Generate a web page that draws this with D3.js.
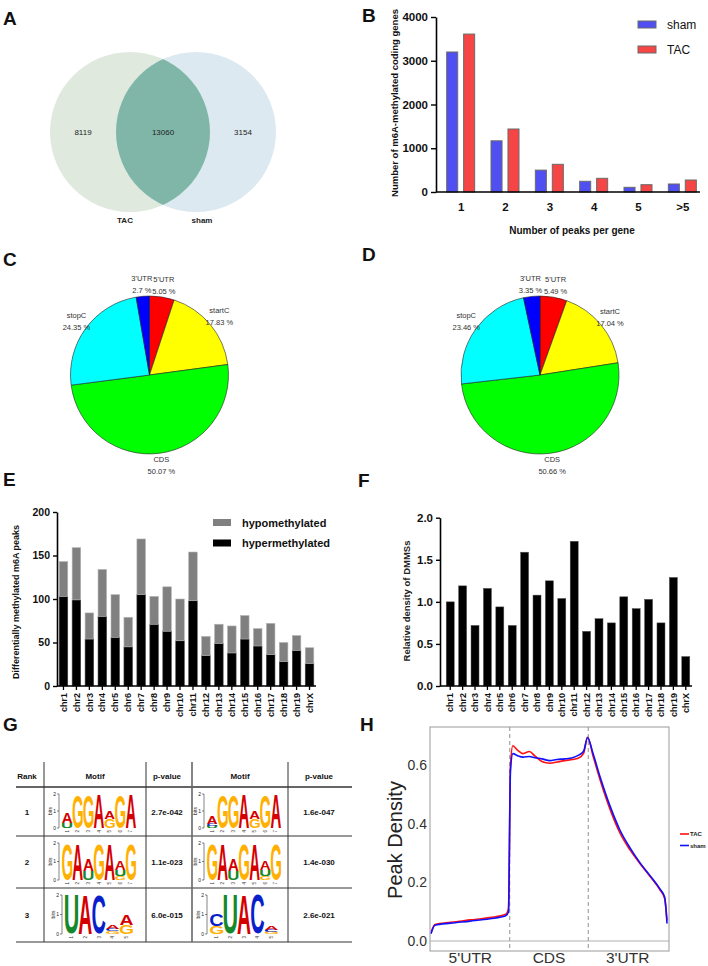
<!DOCTYPE html>
<html>
<head>
<meta charset="utf-8">
<script src="https://cdn.jsdelivr.net/npm/d3@7"></script>
<style>
  body { margin: 0; background: #fff; }
  svg { display: block; font-family: "Liberation Sans", Arial, Helvetica, sans-serif; }
</style>
</head>
<body>
<div id="fig"></div>
<script>
// ---- data ----
var vennSets = ["TAC", "sham"];
var vennCounts = [8119, 13060, 3154];   // TAC only, both, sham only

var peakBins = ["1", "2", "3", "4", "5", ">5"];
var shamGenes = [3200, 1170, 500, 245, 107, 183];
var tacGenes = [3610, 1440, 633, 313, 167, 274];

var regionNames = ["5'UTR", "startC", "CDS", "stopC", "3'UTR"];
var regionColors = ["#ff0000", "#ffff00", "#00ff00", "#00ffff", "#0000ff"];
var tacRegionPct = [5.05, 17.83, 50.07, 24.35, 2.7];
var shamRegionPct = [5.49, 17.04, 50.66, 23.46, 3.35];

var chroms = ["chr1", "chr2", "chr3", "chr4", "chr5", "chr6", "chr7", "chr8", "chr9", "chr10",
              "chr11", "chr12", "chr13", "chr14", "chr15", "chr16", "chr17", "chr18", "chr19", "chrX"];
var hyperPeaks = [103, 99, 54, 80, 56, 45, 105, 71, 63, 52, 98, 35, 49, 38, 54, 46, 36, 28, 41, 26];
var hypoPeaks = [40, 60, 30, 54, 49, 34, 64, 32, 51, 48, 56, 22, 22, 31, 27, 20, 36, 22, 17, 18];
var dmmsDensity = [1.0, 1.19, 0.72, 1.16, 0.94, 0.72, 1.59, 1.08, 1.25, 1.04,
                   1.72, 0.65, 0.80, 0.75, 1.06, 0.92, 1.03, 0.75, 1.29, 0.35];

var tableHeader = ["Rank", "Motif", "p-value", "Motif", "p-value"];
var motifRanks = ["1", "2", "3"];
var tacPvalues = ["2.7e-042", "1.1e-023", "6.0e-015"];
var shamPvalues = ["1.6e-047", "1.4e-030", "2.6e-021"];
// each position: letters stacked bottom -> top, [letter, bits]
var tacMotifs = [
  [[["U", 0.3], ["A", 0.6]], [["G", 1.95]], [["G", 1.95]], [["A", 1.95]], [["G", 0.55], ["A", 0.45]], [["G", 1.95]], [["A", 1.95]]],
  [[["G", 1.9]], [["A", 1.9]], [["U", 0.5], ["A", 0.6]], [["G", 1.9]], [["A", 1.9]], [["G", 0.2], ["U", 0.35], ["A", 0.5]], [["G", 1.9]]],
  [[["U", 2.0]], [["A", 2.0]], [["C", 1.95]], [["G", 0.16], ["C", 0.12], ["A", 0.22]], [["G", 0.45], ["A", 0.55]]]
];
var shamMotifs = [
  [[["U", 0.12], ["C", 0.12], ["A", 0.45]], [["G", 1.95]], [["G", 1.95]], [["A", 1.95]], [["G", 0.55], ["A", 0.45]], [["G", 1.95]], [["A", 1.95]]],
  [[["G", 1.9]], [["A", 1.9]], [["U", 0.5], ["A", 0.6]], [["G", 1.9]], [["A", 1.9]], [["G", 0.2], ["U", 0.35], ["A", 0.5]], [["G", 1.9]]],
  [[["G", 0.42], ["C", 0.58]], [["U", 2.0]], [["A", 2.0]], [["C", 2.0]], [["G", 0.1], ["C", 0.1], ["A", 0.18]]]
];
var letterColors = { A: "#d40000", C: "#0a1fcc", G: "#ffb000", U: "#15882a" };

var metaRegions = ["5'UTR", "CDS", "3'UTR"];
var metaX = [0, 0.05, 0.25, 0.5, 0.75, 0.95, 0.985, 1.01, 1.04, 1.1, 1.17, 1.25, 1.32, 1.41, 1.51, 1.6,
             1.7, 1.8, 1.87, 1.94, 1.99, 2.06, 2.15, 2.28, 2.4, 2.53, 2.66, 2.78, 2.91, 2.97, 3.0];
var tacDensity = [0.028, 0.056, 0.064, 0.072, 0.080, 0.091, 0.11, 0.60, 0.667, 0.652, 0.640, 0.647, 0.632, 0.613, 0.607, 0.611,
                  0.616, 0.620, 0.624, 0.641, 0.696, 0.632, 0.55, 0.447, 0.37, 0.311, 0.263, 0.222, 0.175, 0.145, 0.07];
var shamDensity = [0.025, 0.054, 0.061, 0.068, 0.076, 0.086, 0.10, 0.58, 0.640, 0.633, 0.628, 0.630, 0.626, 0.622, 0.616, 0.620,
                   0.622, 0.626, 0.634, 0.648, 0.695, 0.64, 0.56, 0.458, 0.38, 0.318, 0.266, 0.225, 0.178, 0.15, 0.06];

// ---- figure ----
var W = 708, H = 966;
var svg = d3.select("#fig").append("svg").attr("width", W).attr("height", H);

function panelLabel(t, x, y) {
  svg.append("text").attr("x", x).attr("y", y)
    .attr("font-size", 19).attr("font-weight", "bold").attr("fill", "#111").text(t);
}
panelLabel("A", 3, 25); panelLabel("B", 362, 22);
panelLabel("C", 3, 266); panelLabel("D", 362, 261);
panelLabel("E", 3, 486); panelLabel("F", 358, 487);
panelLabel("G", 3, 731); panelLabel("H", 360, 731);

// ---- A: venn ----
var vennR = 80, vennCy = 132;
var vennCx = d3.scaleOrdinal().domain(vennSets).range([130, 196]);
var defs = svg.append("defs");
defs.append("clipPath").attr("id", "clipTAC")
  .append("circle").attr("cx", vennCx("TAC")).attr("cy", vennCy).attr("r", vennR);
var gA = svg.append("g");
gA.append("circle").attr("cx", vennCx("TAC")).attr("cy", vennCy).attr("r", vennR).attr("fill", "#dfe9de");
gA.append("circle").attr("cx", vennCx("sham")).attr("cy", vennCy).attr("r", vennR).attr("fill", "#dde9f1");
gA.append("circle").attr("cx", vennCx("sham")).attr("cy", vennCy).attr("r", vennR)
  .attr("clip-path", "url(#clipTAC)").attr("fill", "#7fb6a8");
var vennTextX = [
  (vennCx("TAC") - vennR + vennCx("sham") - vennR) / 2,
  (vennCx("sham") - vennR + vennCx("TAC") + vennR) / 2,
  (vennCx("TAC") + vennR + vennCx("sham") + vennR) / 2
];
vennCounts.forEach(function (v, i) {
  gA.append("text").attr("x", vennTextX[i]).attr("y", vennCy + 3).attr("text-anchor", "middle")
    .attr("font-size", 8).attr("fill", "#222").text(v);
});
vennSets.forEach(function (s, i) {
  gA.append("text").attr("x", vennCx(s) + (i ? 6 : -5)).attr("y", 223).attr("text-anchor", "middle")
    .attr("font-size", 8).attr("font-weight", "bold").attr("fill", "#222").text(s);
});

// ---- B: grouped bars ----
var gB = svg.append("g");
var bx = d3.scaleBand().domain(peakBins).range([439, 705]);
var bSub = d3.scaleBand().domain(["sham", "TAC"]).range([-14.5, 13.5]).paddingInner(0.35);
var by = d3.scaleLinear().domain([0, 4000]).range([192, 17]);
var bColors = { sham: "#5050f2", TAC: "#f54545" };
var bSeries = { sham: shamGenes, TAC: tacGenes };
["sham", "TAC"].forEach(function (k) {
  gB.selectAll(".bar-" + k).data(bSeries[k]).enter().append("rect")
    .attr("x", function (d, i) { return bx(peakBins[i]) + bx.bandwidth() / 2 + bSub(k); })
    .attr("y", function (d) { return by(d); })
    .attr("width", bSub.bandwidth())
    .attr("height", function (d) { return by(0) - by(d); })
    .attr("fill", bColors[k]).attr("stroke", "#6a6a6a").attr("stroke-width", 1);
});
var bAxisY = gB.append("g").attr("transform", "translate(436,0)")
  .call(d3.axisLeft(by).tickValues([0, 1000, 2000, 3000, 4000]).tickFormat(d3.format("d"))
    .tickSize(5).tickSizeOuter(0).tickPadding(3));
bAxisY.select(".domain").attr("stroke-width", 1.6);
bAxisY.selectAll(".tick line").attr("stroke-width", 1.4);
bAxisY.selectAll("text").attr("font-size", 11.5).attr("font-weight", "bold").attr("fill", "#111").attr("font-family", null);
var bAxisX = gB.append("g").attr("transform", "translate(0,192)")
  .call(d3.axisBottom(bx).tickSize(0).tickPadding(11));
bAxisX.select(".domain").remove();
bAxisX.selectAll("text").attr("font-size", 11.5).attr("font-weight", "bold").attr("fill", "#111").attr("font-family", null);
gB.append("line").attr("x1", 436).attr("x2", 700).attr("y1", 192).attr("y2", 192)
  .attr("stroke", "#000").attr("stroke-width", 1.6);
gB.append("text").attr("transform", "translate(398,103) rotate(-90)").attr("text-anchor", "middle")
  .attr("font-size", 9.5).attr("font-weight", "bold").attr("fill", "#111")
  .text("Number of m6A-methylated coding genes");
gB.append("text").attr("x", 572).attr("y", 233.5).attr("text-anchor", "middle")
  .attr("font-size", 10).attr("font-weight", "bold").attr("fill", "#111").text("Number of peaks per gene");
["sham", "TAC"].forEach(function (k, i) {
  var y = 21 + i * 25;
  gB.append("rect").attr("x", 638).attr("y", y).attr("width", 18).attr("height", 7)
    .attr("fill", bColors[k]).attr("stroke", "#6a6a6a").attr("stroke-width", 1);
  gB.append("text").attr("x", 667).attr("y", y + 8).attr("font-size", 12).attr("fill", "#111").text(k);
});

// ---- C, D: pies ----
function drawPie(cx, cy, pcts) {
  var g = svg.append("g").attr("transform", "translate(" + cx + "," + cy + ")");
  var r = 79;
  var arcs = d3.pie().sort(null).value(function (d) { return d; })(pcts);
  var arc = d3.arc().innerRadius(0).outerRadius(r);
  g.selectAll("path").data(arcs).enter().append("path")
    .attr("d", arc)
    .attr("fill", function (d, i) { return regionColors[i]; })
    .attr("stroke", "#222").attr("stroke-width", 0.6);
  arcs.forEach(function (d, i) {
    var a = (d.startAngle + d.endAngle) / 2;
    var lx = 1.15 * r * Math.sin(a), ly = -1.15 * r * Math.cos(a);
    var t = g.append("text").attr("text-anchor", "middle").attr("font-size", 7.5).attr("fill", "#333");
    t.append("tspan").attr("x", lx).attr("y", ly - 3.5).text(regionNames[i]);
    t.append("tspan").attr("x", lx).attr("y", ly + 8.5).text(pcts[i] + " %");
  });
}
drawPie(149.5, 375, tacRegionPct);
drawPie(540, 375, shamRegionPct);

// ---- shared chromosome axis helper ----
function chromAxis(g, x, y0) {
  var ax = g.append("g").attr("transform", "translate(0," + y0 + ")")
    .call(d3.axisBottom(x).tickSize(4).tickSizeOuter(0));
  ax.select(".domain").remove();
  ax.selectAll(".tick line").attr("stroke-width", 1.3);
  ax.selectAll("text")
    .attr("transform", "rotate(-90)").attr("x", -7).attr("y", 0).attr("dy", "0.35em")
    .attr("text-anchor", "end").attr("font-size", 9).attr("font-weight", "bold")
    .attr("fill", "#111").attr("font-family", null);
}

// ---- E: stacked bars ----
var gE = svg.append("g");
var ex = d3.scaleBand().domain(chroms).range([57, 316]).paddingInner(0.34).paddingOuter(0.17);
var ey = d3.scaleLinear().domain([0, 200]).range([686, 512]);
var eRows = chroms.map(function (c, i) { return { chr: c, hyper: hyperPeaks[i], hypo: hypoPeaks[i] }; });
var eStack = d3.stack().keys(["hyper", "hypo"])(eRows);
var eColors = { hyper: "#000000", hypo: "#808080" };
eStack.forEach(function (layer) {
  gE.selectAll(".e-" + layer.key).data(layer).enter().append("rect")
    .attr("x", function (d) { return ex(d.data.chr); })
    .attr("y", function (d) { return ey(d[1]); })
    .attr("width", ex.bandwidth())
    .attr("height", function (d) { return ey(d[0]) - ey(d[1]); })
    .attr("fill", eColors[layer.key])
    .attr("stroke", layer.key === "hypo" ? "#b5b5b5" : "#444").attr("stroke-width", 0.6);
});
var eAxisY = gE.append("g").attr("transform", "translate(57,0)")
  .call(d3.axisLeft(ey).tickValues([0, 50, 100, 150, 200]).tickSize(4).tickSizeOuter(0).tickPadding(3));
eAxisY.select(".domain").attr("stroke-width", 1.6);
eAxisY.selectAll(".tick line").attr("stroke-width", 1.4);
eAxisY.selectAll("text").attr("font-size", 10.5).attr("font-weight", "bold").attr("fill", "#111").attr("font-family", null);
chromAxis(gE, ex, 686);
gE.append("line").attr("x1", 57).attr("x2", 316).attr("y1", 686).attr("y2", 686)
  .attr("stroke", "#000").attr("stroke-width", 1.6);
gE.append("text").attr("transform", "translate(19,602) rotate(-90)").attr("text-anchor", "middle")
  .attr("font-size", 9).attr("font-weight", "bold").attr("fill", "#111")
  .text("Differentially methylated m6A peaks");
[["hypo", "hypomethylated"], ["hyper", "hypermethylated"]].forEach(function (k, i) {
  var y = 519 + i * 20.5;
  gE.append("rect").attr("x", 213).attr("y", y).attr("width", 18).attr("height", 7).attr("fill", eColors[k[0]]);
  gE.append("text").attr("x", 242).attr("y", y + 7.5).attr("font-size", 11).attr("font-weight", "bold")
    .attr("fill", "#111").text(k[1]);
});

// ---- F: density bars ----
var gF = svg.append("g");
var fx = d3.scaleBand().domain(chroms).range([444, 692]).paddingInner(0.355).paddingOuter(0.18);
var fy = d3.scaleLinear().domain([0, 2]).range([686, 517.7]);
gF.selectAll(".f-bar").data(dmmsDensity).enter().append("rect")
  .attr("x", function (d, i) { return fx(chroms[i]); })
  .attr("y", function (d) { return fy(d); })
  .attr("width", fx.bandwidth())
  .attr("height", function (d) { return fy(0) - fy(d); })
  .attr("fill", "#000").attr("stroke", "#555").attr("stroke-width", 0.5);
var fAxisY = gF.append("g").attr("transform", "translate(440,0)")
  .call(d3.axisLeft(fy).tickValues([0, 0.5, 1, 1.5, 2]).tickFormat(d3.format(".1f"))
    .tickSize(4).tickSizeOuter(0).tickPadding(3));
fAxisY.select(".domain").attr("stroke-width", 1.6);
fAxisY.selectAll(".tick line").attr("stroke-width", 1.4);
fAxisY.selectAll("text").attr("font-size", 11.5).attr("font-weight", "bold").attr("fill", "#111").attr("font-family", null);
chromAxis(gF, fx, 686);
gF.append("line").attr("x1", 440).attr("x2", 692).attr("y1", 686).attr("y2", 686)
  .attr("stroke", "#000").attr("stroke-width", 1.6);
gF.append("text").attr("transform", "translate(410,601) rotate(-90)").attr("text-anchor", "middle")
  .attr("font-size", 9.5).attr("font-weight", "bold").attr("fill", "#222")
  .text("Relative density of DMMSs");

// ---- G: motif table ----
var gG = svg.append("g");
var colEdges = [16, 44, 146, 192, 288, 352];
var rowEdges = [762, 787, 836, 888, 942];
[787, 836, 888, 942].forEach(function (y) {
  gG.append("line").attr("x1", colEdges[0]).attr("x2", colEdges[5]).attr("y1", y).attr("y2", y)
    .attr("stroke", "#333").attr("stroke-width", y === 787 ? 1.3 : 1);
});
colEdges.slice(1, 5).forEach(function (x, i) {
  gG.append("line").attr("x1", x).attr("x2", x).attr("y1", rowEdges[0]).attr("y2", rowEdges[4])
    .attr("stroke", i === 2 ? "#666" : "#333").attr("stroke-width", i === 2 ? 1.6 : 1);
});
var colCenter = [27, 95, 167, 240, 319];
tableHeader.forEach(function (h, i) {
  gG.append("text").attr("x", colCenter[i]).attr("y", 778.5).attr("text-anchor", "middle")
    .attr("font-size", 8).attr("font-weight", "bold").attr("fill", "#111").text(h);
});
var measureCtx = document.createElement("canvas").getContext("2d");
measureCtx.font = "bold 100px 'Liberation Sans', Arial, sans-serif";
function inkBox(ch) {
  var m = measureCtx.measureText(ch);
  return { L: m.actualBoundingBoxLeft, R: m.actualBoundingBoxRight, A: m.actualBoundingBoxAscent, D: m.actualBoundingBoxDescent };
}
function drawLogo(motif, cellL, cellR, rowTop, rowBot) {
  var n = motif.length;
  var width = Math.min(74, n * 13.6);
  var mid = (cellL + cellR) / 2 + 4;
  var lx = d3.scaleBand().domain(d3.range(n)).range([mid - width / 2, mid + width / 2]).paddingInner(0.04);
  var ly = d3.scaleLinear().domain([0, 2]).range([rowBot - 8, rowTop + 7]);
  var axX = mid - width / 2 - 3;
  var g = gG.append("g");
  g.append("line").attr("x1", axX).attr("x2", axX).attr("y1", ly(0)).attr("y2", ly(2)).attr("stroke", "#333").attr("stroke-width", 0.6);
  [0, 1, 2].forEach(function (v) {
    g.append("line").attr("x1", axX - 2).attr("x2", axX).attr("y1", ly(v)).attr("y2", ly(v)).attr("stroke", "#333").attr("stroke-width", 0.6);
    g.append("text").attr("x", axX - 3).attr("y", ly(v) + 1.7).attr("text-anchor", "end")
      .attr("font-size", 5).attr("fill", "#222").text(v);
  });
  g.append("text").attr("transform", "translate(" + (axX - 7) + "," + ly(1) + ") rotate(-90)")
    .attr("text-anchor", "middle").attr("font-size", 5).attr("fill", "#222").text("bits");
  motif.forEach(function (col, p) {
    var base = 0;
    col.forEach(function (lv) {
      var b = inkBox(lv[0]);
      var x0 = lx(p), w = lx.bandwidth();
      var yb = ly(base), h = ly(0) - ly(lv[1]);
      var sx = w / (b.L + b.R), sy = h / (b.A + b.D);
      g.append("text")
        .attr("transform", "translate(" + x0 + "," + yb + ") scale(" + sx + "," + sy + ") translate(" + b.L + "," + (-b.D) + ")")
        .attr("font-size", 100).attr("font-weight", "bold").attr("fill", letterColors[lv[0]]).text(lv[0]);
      base += lv[1];
    });
    g.append("text").attr("transform", "translate(" + (lx(p) + lx.bandwidth() / 2 + 1.5) + "," + (ly(0) + 2) + ") rotate(-90)")
      .attr("text-anchor", "end").attr("font-size", 4.5).attr("fill", "#333").text(p + 1);
  });
}
motifRanks.forEach(function (r, i) {
  var top = rowEdges[i + 1], bot = rowEdges[i + 2], yc = (top + bot) / 2 + 3;
  gG.append("text").attr("x", colCenter[0]).attr("y", yc).attr("text-anchor", "middle")
    .attr("font-size", 8).attr("font-weight", "bold").attr("fill", "#111").text(r);
  gG.append("text").attr("x", colCenter[2]).attr("y", yc).attr("text-anchor", "middle")
    .attr("font-size", 8).attr("font-weight", "bold").attr("fill", "#111").text(tacPvalues[i]);
  gG.append("text").attr("x", colCenter[4]).attr("y", yc).attr("text-anchor", "middle")
    .attr("font-size", 8).attr("font-weight", "bold").attr("fill", "#111").text(shamPvalues[i]);
  drawLogo(tacMotifs[i], colEdges[1], colEdges[2], top, bot);
  drawLogo(shamMotifs[i], colEdges[3], colEdges[4], top, bot);
});

// ---- H: metagene ----
var gH = svg.append("g");
var hx = d3.scaleLinear().domain([0, 3]).range([431, 667]);
var hy = d3.scaleLinear().domain([0, 0.6]).range([941, 765.3]);
var panel = { x0: 430, x1: 669, y0: 727, y1: 951 };
gH.append("line").attr("x1", panel.x0).attr("x2", panel.x1).attr("y1", hy(0)).attr("y2", hy(0))
  .attr("stroke", "#b0b0b0").attr("stroke-width", 1);
[1, 2].forEach(function (v) {
  gH.append("line").attr("x1", hx(v)).attr("x2", hx(v)).attr("y1", panel.y0).attr("y2", panel.y1)
    .attr("stroke", "#aaa").attr("stroke-width", 1.3).attr("stroke-dasharray", "4,3");
});
var hLine = d3.line().x(function (d, i) { return hx(metaX[i]); }).y(function (d) { return hy(d); })
  .curve(d3.curveMonotoneX);
gH.append("path").attr("d", hLine(tacDensity)).attr("fill", "none").attr("stroke", "#ff1010").attr("stroke-width", 1.6);
gH.append("path").attr("d", hLine(shamDensity)).attr("fill", "none").attr("stroke", "#1010ff").attr("stroke-width", 1.6);
gH.append("rect").attr("x", panel.x0).attr("y", panel.y0).attr("width", panel.x1 - panel.x0)
  .attr("height", panel.y1 - panel.y0).attr("fill", "none").attr("stroke", "#9a9a9a").attr("stroke-width", 1);
[0, 0.2, 0.4, 0.6].forEach(function (v) {
  gH.append("text").attr("x", 427).attr("y", hy(v) + 5).attr("text-anchor", "end")
    .attr("font-size", 14).attr("fill", "#333").text(d3.format(".1f")(v));
});
metaRegions.forEach(function (r, i) {
  gH.append("text").attr("x", hx(i + 0.5)).attr("y", 963).attr("text-anchor", "middle")
    .attr("font-size", 15.5).attr("fill", "#333").text(r);
});
gH.append("text").attr("transform", "translate(402,840) rotate(-90)").attr("text-anchor", "middle")
  .attr("font-size", 20).attr("fill", "#222").text("Peak Density");
[["TAC", "#ff1010"], ["sham", "#1010ff"]].forEach(function (k, i) {
  var y = 834 + i * 11.5;
  gH.append("line").attr("x1", 680).attr("x2", 689).attr("y1", y).attr("y2", y)
    .attr("stroke", k[1]).attr("stroke-width", 1.6);
  gH.append("text").attr("x", 690).attr("y", y + 2).attr("font-size", 6).attr("font-weight", "bold")
    .attr("fill", "#222").text(k[0]);
});
</script>
</body>
</html>
